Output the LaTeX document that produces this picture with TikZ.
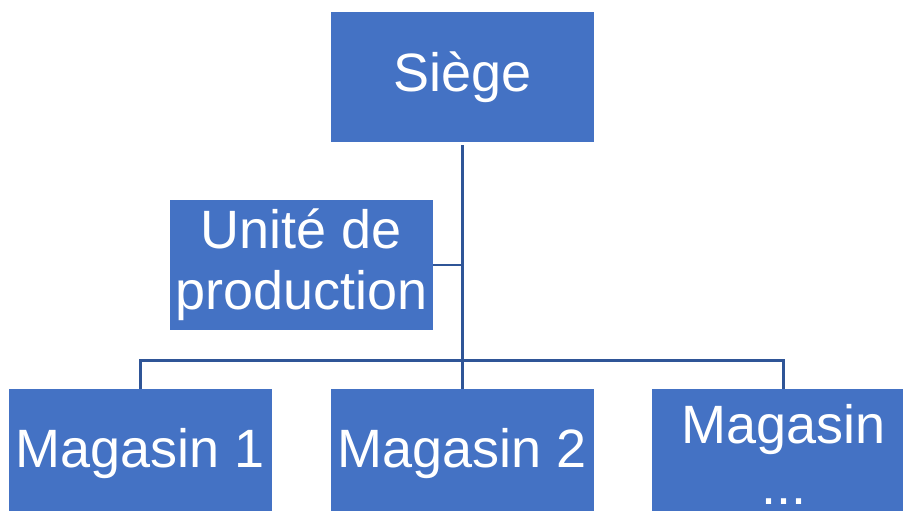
\documentclass[tikz,border=0pt]{standalone}
\usepackage{fontspec}
\setmainfont{Liberation Sans}
\definecolor{boxfill}{HTML}{4472C4}
\definecolor{linecol}{HTML}{2F5597}
\begin{document}
\begin{tikzpicture}[x=1pt,y=1pt,
  orgbox/.style={rectangle, fill=boxfill, draw=none, text=white,
    minimum width=263pt, minimum height=130pt, inner sep=0pt, align=center,
    font=\fontsize{54}{61}\selectfont},
  link/.style={draw=linecol, line width=2.5pt}]
\useasboundingbox (0,0) rectangle (903,511);
\node[orgbox] (siege) at (462.5,434) {Siège};
\node[orgbox] (unite) at (301.5,246) {Unité de\\production};
\node[orgbox] (m1) at (140.5,57) {Magasin 1};
\node[orgbox] (m2) at (462.5,57) {Magasin 2};
\node[orgbox] (m3) at (783.5,57) {Magasin\\...};
\coordinate (bus) at (462.5,150.5);
\draw[link] ([yshift=-3pt]siege.south) -- (bus);
\draw[link] (m1.north) |- (bus) -| (m3.north);
\draw[link] (m2.north) -- (bus);
\draw[link] (unite.east) -- (unite.east -| bus);
\end{tikzpicture}
\end{document}
